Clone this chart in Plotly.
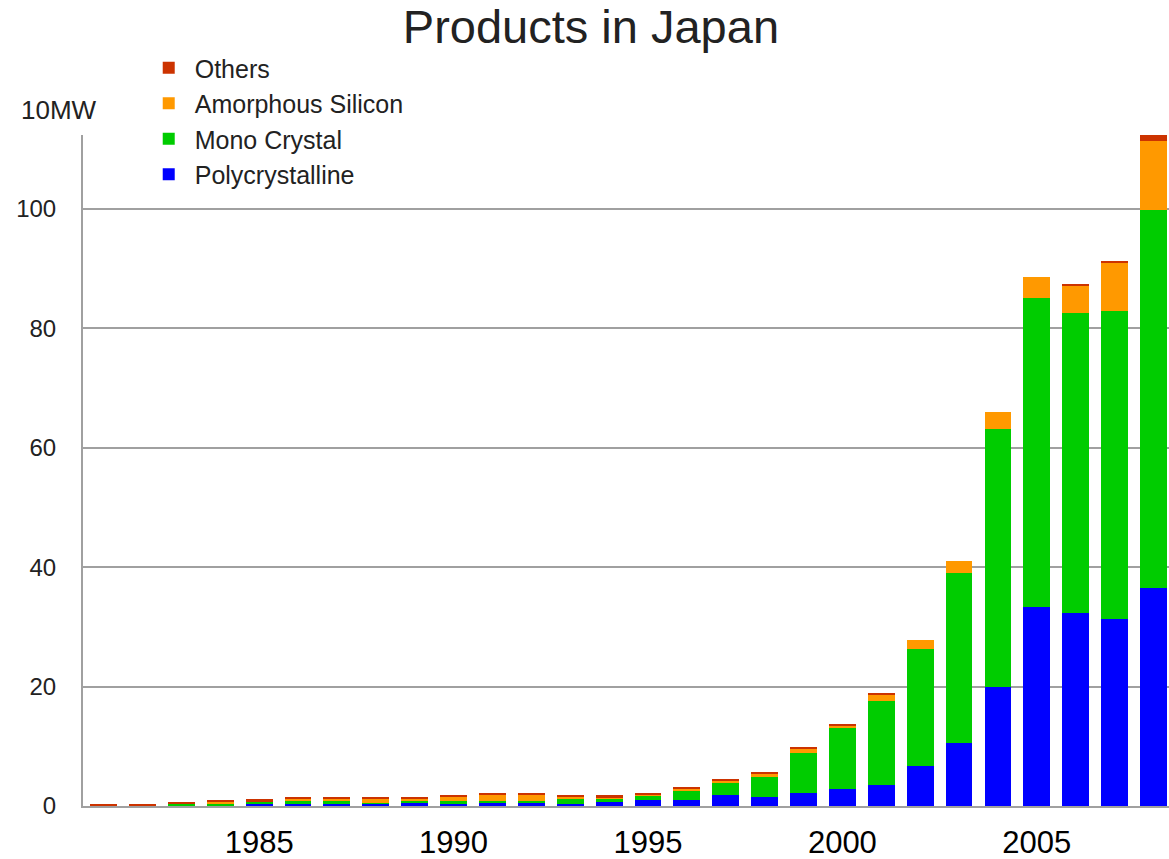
import plotly.graph_objects as go

# Annual solar cell production in Japan, in units of 10 MW
years = list(range(1981, 2009))

polycrystalline = [0.0, 0.0, 0.0, 0.0, 0.45, 0.5, 0.5, 0.45, 0.5, 0.4,
                   0.64, 0.64, 0.36, 0.64, 1.03, 1.04, 1.8, 1.5, 2.2, 2.9,
                   3.5, 6.7, 10.6, 20.0, 33.4, 32.4, 31.3, 36.6]
mono_crystal = [0.0, 0.0, 0.42, 0.42, 0.33, 0.3, 0.3, 0.05, 0.35, 0.4,
                0.28, 0.28, 0.73, 0.61, 0.67, 1.5, 2.1, 3.4, 6.6, 10.1,
                14.1, 19.6, 28.4, 43.2, 51.7, 50.2, 51.6, 63.2]
amorphous_silicon = [0.0, 0.0, 0.0, 0.33, 0.0, 0.44, 0.44, 0.78, 0.4, 0.78,
                     0.89, 0.89, 0.44, 0.23, 0.28, 0.35, 0.35, 0.4, 0.7, 0.4,
                     1.0, 1.5, 2.05, 2.8, 3.5, 4.5, 8.1, 11.6]
others = [0.35, 0.35, 0.3, 0.3, 0.33, 0.3, 0.3, 0.25, 0.3, 0.3,
          0.34, 0.34, 0.28, 0.33, 0.17, 0.3, 0.35, 0.35, 0.35, 0.35,
          0.3, 0.0, 0.0, 0.0, 0.0, 0.4, 0.3, 1.0]

series = [
    ("Polycrystalline", polycrystalline, "#0000FF"),
    ("Mono Crystal", mono_crystal, "#00CC00"),
    ("Amorphous Silicon", amorphous_silicon, "#FF9900"),
    ("Others", others, "#CC3300"),
]

x_ticks = [1985, 1990, 1995, 2000, 2005]
y_ticks = [0, 20, 40, 60, 80, 100]

FONT = "Liberation Sans, Arial, sans-serif"

fig = go.Figure()
for i, (name, values, color) in enumerate(series):
    fig.add_trace(go.Bar(
        x=years, y=values, name=name,
        marker=dict(color=color, line=dict(width=0)),
        legendgroup=f"g{i}",
    ))

fig.update_layout(
    width=1169, height=859,
    barmode="stack",
    bargap=0.31,
    plot_bgcolor="white",
    paper_bgcolor="white",
    margin=dict(l=83, r=0, t=135, b=53, pad=0),
    title=dict(
        text="Products in Japan",
        font=dict(family=FONT, size=47, color="#222222"),
        x=0.5055, xref="container", xanchor="center",
        y=1 - 27 / 859, yref="container", yanchor="middle",
    ),
    showlegend=True,
    legend=dict(
        traceorder="reversed",
        x=0.055, xanchor="left",
        y=1.134, yanchor="top",
        font=dict(family=FONT, size=25, color="#222222"),
        bgcolor="rgba(0,0,0,0)",
        tracegroupgap=0,
        itemwidth=42,
    ),
    xaxis=dict(
        range=[1980.47, 2008.4],
        tickmode="array", tickvals=x_ticks,
        ticktext=[str(v) for v in x_ticks],
        tickfont=dict(family=FONT, size=31, color="#000000"),
        showgrid=False, zeroline=False,
        showline=True, linecolor="#A0A0A0", linewidth=2,
        ticks="", ticklabelstandoff=8,
    ),
    yaxis=dict(
        range=[0, 112.4],
        tickmode="array", tickvals=y_ticks,
        ticktext=[str(v) for v in y_ticks],
        tickfont=dict(family=FONT, size=24, color="#222222"),
        showgrid=True, gridcolor="#A0A0A0", gridwidth=2,
        zeroline=False,
        showline=True, linecolor="#A0A0A0", linewidth=2,
        ticks="", ticklabelstandoff=20,
    ),
    annotations=[dict(
        text="10MW", xref="paper", yref="paper",
        x=(58.5 - 83) / 1086, xanchor="center",
        y=(806 - 110) / 671, yanchor="middle",
        showarrow=False,
        font=dict(family=FONT, size=26, color="#222222"),
    )],
)

fig.write_html("out.html")
